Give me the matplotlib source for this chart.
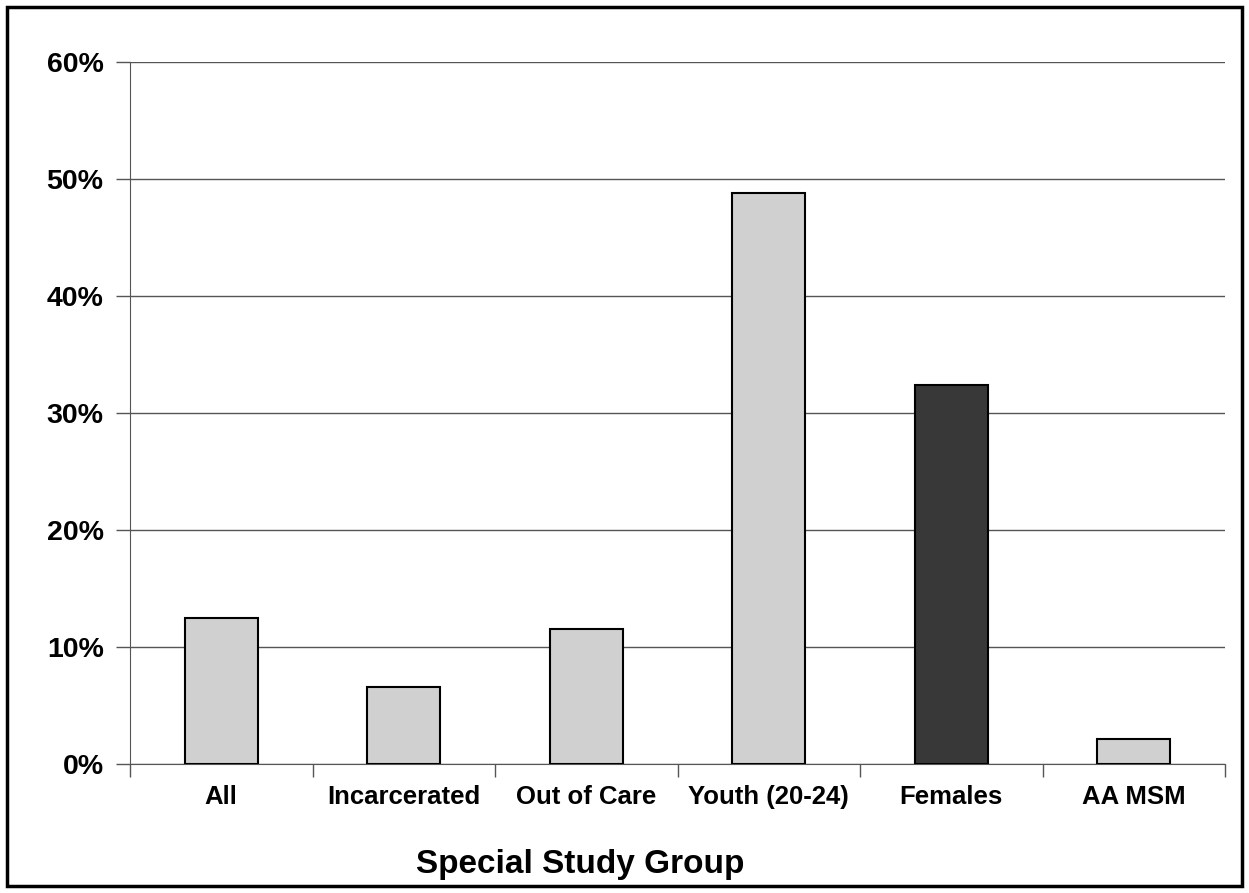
"""
Bar chart of percentages by special study group.
"""

import matplotlib
matplotlib.use("Agg")
from matplotlib import pyplot as plt
from matplotlib.patches import Rectangle
from matplotlib.ticker import FuncFormatter, FixedLocator, NullFormatter

groups = ["All", "Incarcerated", "Out of Care", "Youth (20-24)", "Females", "AA MSM"]
percents = [12.5, 6.6, 11.5, 48.8, 32.4, 2.1]
highlight = "Females"

plt.rcParams["font.family"] = ["Liberation Sans", "DejaVu Sans"]
plt.rcParams["font.weight"] = "bold"

fig = plt.figure(figsize=(12.49, 8.93), dpi=100)
ax = fig.add_axes([0.1041, 0.1445, 0.8767, 0.7861])

colors = ["#383838" if g == highlight else "#d0d0d0" for g in groups]
x = list(range(len(groups)))
ax.bar(x, percents, width=0.4, color=colors, edgecolor="black", linewidth=1.5, zorder=3)

ax.set_xlim(-0.5, len(groups) - 0.5)
ax.set_ylim(0, 60)
ax.set_yticks(range(0, 61, 10))
ax.yaxis.set_major_formatter(FuncFormatter(lambda v, _: f"{v:.0f}%"))
ax.grid(axis="y", color="#555555", linewidth=1, zorder=0)

# category labels centred under the bars, ticks on the boundaries between them
ax.set_xticks(x)
ax.set_xticklabels(groups, fontsize=18.5, fontweight="bold")
ax.tick_params(axis="x", which="major", length=0, pad=15)
ax.xaxis.set_minor_locator(FixedLocator([i - 0.5 for i in range(len(groups) + 1)]))
ax.xaxis.set_minor_formatter(NullFormatter())
ax.tick_params(axis="x", which="minor", length=9, width=1, color="#555555")
ax.tick_params(axis="y", length=10, width=1, color="#555555", labelsize=20.5, pad=9)
for lab in ax.get_yticklabels():
    lab.set_fontweight("bold")

for side in ("top", "right"):
    ax.spines[side].set_visible(False)
ax.spines["left"].set_color("#555555")
ax.spines["bottom"].set_color("#555555")

ax.set_xlabel("Special Study Group", fontsize=24, fontweight="bold")
ax.xaxis.set_label_coords(0.411, -0.121)

# outer frame around the whole figure
fig.patches.append(Rectangle((0.006, 0.008), 0.988, 0.984, transform=fig.transFigure,
                             fill=False, edgecolor="black", linewidth=2.5))

plt.savefig("out.png", dpi=100)
plt.close()
